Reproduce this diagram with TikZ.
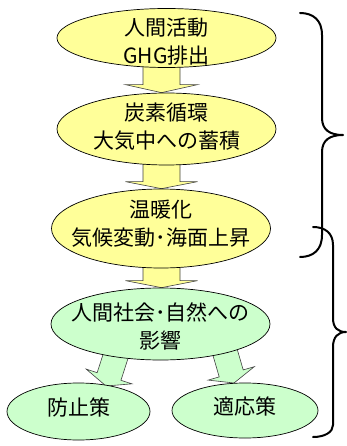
\documentclass[tikz,border=0pt]{standalone}
\usepackage{fontspec}
\newfontfamily\jp{Noto Sans CJK JP}
\usetikzlibrary{calc,backgrounds,shapes.geometric}
\definecolor{ylw}{HTML}{FFFF99}
\definecolor{grn}{HTML}{CCFFCC}
\definecolor{edgegray}{HTML}{404040}
\newcommand\blockarr[6]{%
  \coordinate (ba-a) at (#2);
  \coordinate (ba-t) at (#3);
  \coordinate (ba-b) at ($(ba-t)!#6!(ba-a)$);
  \draw[#1] ($(ba-a)!#4!90:(ba-t)$) -- ($(ba-b)!#4!90:(ba-t)$) -- ($(ba-b)!#5!90:(ba-t)$) -- (ba-t)
    -- ($(ba-b)!#5!-90:(ba-t)$) -- ($(ba-b)!#4!-90:(ba-t)$) -- ($(ba-a)!#4!-90:(ba-t)$) -- cycle;}
\begin{document}
\begin{tikzpicture}[x=1pt,y=-1pt,
  ell/.style={ellipse, draw=black, line width=0.7pt, inner sep=0pt},
  txt/.style={font=\jp\fontsize{21}{28}\selectfont, align=center, inner sep=0pt, text=black},
  blk/.style={draw=edgegray, line width=0.6pt, line join=miter},
  bracestyle/.style={draw=black, line width=2pt, line cap=round, line join=round}]
\useasboundingbox (0,0) rectangle (346,446);

% ellipses
\node[ell, fill=ylw, minimum width=219pt, minimum height=59pt] (e1) at (166.5,38) {};
\node[ell, fill=ylw, minimum width=219pt, minimum height=72pt] (e2) at (166.5,129) {};
\node[ell, fill=ylw, minimum width=219pt, minimum height=79pt] (e3) at (161,228.5) {};
\node[ell, fill=grn, minimum width=219pt, minimum height=72pt] (e4) at (160.5,324) {};
\node[ell, fill=grn, minimum width=143pt, minimum height=57pt] (e5) at (78.5,411.5) {};
\node[ell, fill=grn, minimum width=146pt, minimum height=55pt] (e6) at (245,410.5) {};

% texts
\node[txt] (t1) at ($(e1)+(0,3.5)$) {人間活動\\GHG排出};
\node[txt] (t2) at ($(e2)+(0,-2)$) {炭素循環\\大気中への蓄積};
\node[txt] (t3) at ($(e3)+(0,-5)$) {温暖化\\気候変動･海面上昇};
\node[txt] (t4) at ($(e4)+(0,2)$) {人間社会･自然への\\影響};
\node[txt] (t5) at ($(e5)+(0,-4)$) {防止策};
\node[txt] (t6) at ($(e6)+(0,-4)$) {適応策};

% block arrows (behind the ellipses)
\begin{pgfonlayer}{background}
\blockarr{blk,fill=ylw}{$(e1.south)+(-5,-1.5)$}{$(e2.north)+(-5,0)$}{18.5pt}{36pt}{8pt}
\blockarr{blk,fill=ylw}{$(e2.south)+(-5,-1.5)$}{$(e3.north)+(0.5,0)$}{18.5pt}{36pt}{7pt}
\blockarr{blk,fill=ylw}{$(e3.south)+(0.5,-1.5)$}{$(e4.north)+(1,0)$}{18.5pt}{36pt}{7pt}
\blockarr{blk,fill=grn}{$(e4)+(-39.7,16)$}{$(e5)+(27.5,-25.5)$}{12.5pt}{24pt}{10pt}
\blockarr{blk,fill=grn}{$(e4)+(61,16)$}{$(e6)+(-11,-27.5)$}{12.5pt}{24pt}{10pt}
\end{pgfonlayer}

% braces
\draw[bracestyle] (300,13) .. controls (313,13) and (322,20) .. (322,35) -- (322,118)
  .. controls (322,130) and (330,135) .. (343,135)
  .. controls (330,135) and (322,140) .. (322,152) -- (322,235)
  .. controls (322,250) and (313,257) .. (300,257);
\draw[bracestyle] (313,227) .. controls (325,227) and (333,233) .. (333,245) -- (333,318)
  .. controls (333,328) and (338,332) .. (346,332)
  .. controls (338,332) and (333,337) .. (333,347) -- (333,425)
  .. controls (333,432) and (325,437) .. (313,437);
\end{tikzpicture}
\end{document}
